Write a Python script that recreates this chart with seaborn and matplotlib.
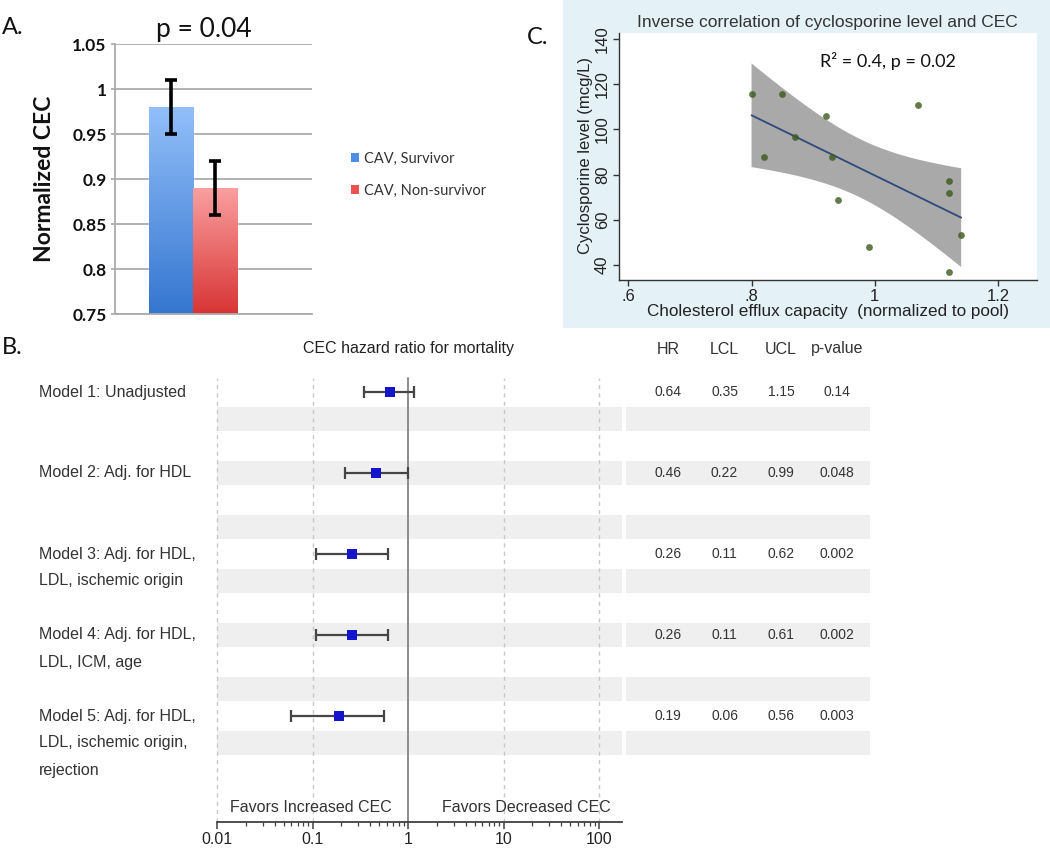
import numpy as np
import pandas as pd
import matplotlib
matplotlib.use("Agg")
import matplotlib.pyplot as plt
import matplotlib.transforms as mtransforms
from matplotlib.patches import Rectangle
from matplotlib.colors import LinearSegmentedColormap
from matplotlib.ticker import FixedLocator, FixedFormatter, LogLocator, NullFormatter
import seaborn as sns

# ---------------- data ----------------
# Panel A
groups = ["CAV, Survivor", "CAV, Non-survivor"]
cec_means = [0.98, 0.89]
cec_err = [0.03, 0.03]
a_yticks = [0.75, 0.8, 0.85, 0.9, 0.95, 1.0, 1.05]

# Panel C
cec_x = [0.80, 0.82, 0.85, 0.87, 0.92, 0.93, 0.94, 0.99, 1.07, 1.12, 1.12, 1.14, 1.12]
cyclo_y = [115.7, 87.9, 115.7, 96.7, 105.8, 87.9, 69.0, 48.1, 110.8, 77.0, 72.0, 53.2, 37.0]
c_xticks = [0.6, 0.8, 1.0, 1.2]
c_xticklabels = [".6", ".8", "1", "1.2"]
c_yticks = [40, 60, 80, 100, 120, 140]

# Panel B
model_labels = [
    "Model 1: Unadjusted",
    "Model 2: Adj. for HDL",
    "Model 3: Adj. for HDL,\nLDL, ischemic origin",
    "Model 4: Adj. for HDL,\nLDL, ICM, age",
    "Model 5: Adj. for HDL,\nLDL, ischemic origin,\nrejection",
]
hr = [0.64, 0.46, 0.26, 0.26, 0.19]
lcl = [0.35, 0.22, 0.11, 0.11, 0.06]
ucl = [1.15, 0.99, 0.62, 0.61, 0.56]
pvals = ["0.14", "0.048", "0.002", "0.002", "0.003"]
table_cols = ["HR", "LCL", "UCL", "p-value"]
forest_ticks = [0.01, 0.1, 1, 10, 100]

# ---------------- figure ----------------
sns.set_theme(style="white")
plt.rcParams["font.family"] = ["Liberation Sans", "DejaVu Sans"]
W, H = 1050, 851
fig = plt.figure(figsize=(10.5, 8.51), dpi=100)
fig.patch.set_facecolor("white")


def fy(py):
    return 1 - py / H


def axes_px(l, t, r, b):
    return fig.add_axes([l / W, 1 - b / H, (r - l) / W, (b - t) / H])


TXT = "#333333"

# ---------------- Panel C background ----------------
fig.add_artist(Rectangle((563 / W, fy(328)), (W - 563) / W, 328 / H,
                         transform=fig.transFigure, facecolor="#e4f2f8",
                         edgecolor="none", zorder=0))

# ---------------- Panel A ----------------
axA = axes_px(115, 44, 312, 314)
dfA = pd.DataFrame({"grp": ["CAV"] * len(groups), "group": groups, "cec": cec_means})
sns.barplot(data=dfA, x="grp", y="cec", hue="group", hue_order=groups,
            palette=["#5a97e8", "#ee6060"], ax=axA, width=0.8,
            errorbar=None, legend=False, saturation=1)
axA.set_ylim(0.75, 1.05)
axA.set_xlim(-0.703, 1.072)
grads = [("#3576d0", "#92bff9"), ("#d83434", "#fa9f9f")]
for p, (cb, ct) in zip(axA.patches, grads):
    x0, w, h = p.get_x(), p.get_width(), p.get_height()
    cmap = LinearSegmentedColormap.from_list("g", [cb, ct])
    im = axA.imshow(np.linspace(0, 1, 256).reshape(-1, 1), cmap=cmap,
                    origin="lower", extent=[x0, x0 + w, 0.75, h],
                    aspect="auto", zorder=2.5)
    im.set_clip_path(p)
xs = [p.get_x() + p.get_width() / 2 for p in axA.patches]
axA.errorbar(xs, cec_means, yerr=cec_err, fmt="none", ecolor="black",
             elinewidth=2.6, capsize=4.5, capthick=2.6, zorder=5)
axA.set_ylim(0.75, 1.05)
axA.set_xlim(-0.703, 1.072)
axA.set_yticks(a_yticks)
axA.set_yticklabels([f"{v:g}" for v in a_yticks], fontsize=12.5,
                    fontweight="bold", family="Lato", color="#111111")
axA.set_xticks([])
axA.set_xlabel("")
axA.yaxis.grid(True, color="#ababab", lw=1.3)
axA.set_axisbelow(True)
for s in ["top", "right"]:
    axA.spines[s].set_visible(False)
axA.spines["left"].set_color("#ababab")
axA.spines["left"].set_linewidth(1.3)
axA.spines["bottom"].set_color("#ababab")
axA.spines["bottom"].set_linewidth(1.3)
axA.tick_params(axis="y", left=True, length=3, color="#ababab", pad=3)
axA.set_ylabel("Normalized CEC", fontsize=16.5, fontweight="bold",
               family="Lato", color="#111111")
axA.yaxis.set_label_coords((55 - 115) / 197, 0.5)

fig.text(204 / W, fy(30), "p = 0.04", ha="center", va="center",
         fontsize=19, family="Lato", color="#111111")
fig.text(2 / W, fy(28), "A.", ha="left", va="center", fontsize=17,
         family="Lato", color="#111111")

handles = [Rectangle((0, 0), 1, 1, facecolor=c, edgecolor="none")
           for c in ["#4f8de4", "#ea5252"]]
fig.legend(handles, groups, loc="upper left", bbox_to_anchor=(351 / W, fy(152)),
           frameon=False, handlelength=0.55, handleheight=0.55,
           handletextpad=0.35, labelspacing=1.2, borderpad=0,
           borderaxespad=0, prop={"family": "Lato", "size": 10.5},
           labelcolor="#333333")

# ---------------- Panel C ----------------
axC = axes_px(619, 33, 1037, 280)
axC.set_facecolor("white")
dfC = pd.DataFrame({"cec": cec_x, "cyclo": cyclo_y})
sns.regplot(data=dfC, x="cec", y="cyclo", ax=axC, ci=None,
            scatter_kws=dict(s=24, color="#3b5a1c", zorder=4, linewidths=0),
            line_kws=dict(color="#2c4a7c", lw=1.3, zorder=3))
# analytic 95% confidence band of the linear fit (as in the original, Stata lfitci)
xv = np.asarray(cec_x)
yv = np.asarray(cyclo_y)
n = len(xv)
slope, intercept = np.polyfit(xv, yv, 1)
resid = yv - (slope * xv + intercept)
s_err = np.sqrt(np.sum(resid ** 2) / (n - 2))
sxx = np.sum((xv - xv.mean()) ** 2)
t_crit = 2.201  # t(0.975, df=11)
grid = np.linspace(xv.min(), xv.max(), 100)
fit = slope * grid + intercept
half = t_crit * s_err * np.sqrt(1 / n + (grid - xv.mean()) ** 2 / sxx)
axC.fill_between(grid, fit - half, fit + half, facecolor="#a9a9a9",
                 edgecolor="none", zorder=2)
axC.set_xlim(0.585, 1.263)
axC.set_ylim(33.4, 142.7)
axC.set_xticks(c_xticks)
axC.set_xticklabels(c_xticklabels, fontsize=12, color="#222222")
axC.set_yticks(c_yticks)
axC.set_yticklabels([str(v) for v in c_yticks], fontsize=12, color="#222222",
                    rotation=90, va="center")
for s in ["top", "right"]:
    axC.spines[s].set_visible(False)
for s in ["left", "bottom"]:
    axC.spines[s].set_color("#333333")
    axC.spines[s].set_linewidth(1.0)
axC.tick_params(axis="both", direction="out", length=4, width=1,
                color="#333333", left=True, bottom=True, pad=2.5)
axC.set_xlabel("Cholesterol efflux capacity  (normalized to pool)",
               fontsize=12.3, color="#222222")
axC.xaxis.set_label_coords(0.5, (280 - 304) / 247)
axC.set_ylabel("Cyclosporine level (mcg/L)", fontsize=12, color="#222222")
axC.yaxis.set_label_coords((593 - 619) / 418, 0.505)
fig.text(827 / W, fy(23), "Inverse correlation of cyclosporine level and CEC",
         ha="center", va="center", fontsize=12.5, color="#333333")
fig.text(888 / W, fy(61), "R\u00b2 = 0.4, p = 0.02", ha="center", va="center",
         fontsize=13, family="Lato", color="#111111")
fig.text(527 / W, fy(38), "C.", ha="left", va="center", fontsize=17,
         family="Lato", color="#111111")

# ---------------- Panel B ----------------
row_px0, row_h = 392, 27
top_px, bot_px = 378, 822
y_top = (top_px - row_px0) / row_h
y_bot = (bot_px - row_px0) / row_h
n_rows = 15
model_rows = [3 * i for i in range(len(hr))]

axF = axes_px(217, top_px, 622, bot_px)
axT = axes_px(626, top_px, 870, bot_px)
for ax in (axF, axT):
    ax.set_ylim(y_bot, y_top)
    ax.set_facecolor("none")
    for r in range(1, n_rows, 2):
        ax.axhspan(r - 0.44, r + 0.44, color="#efefef", lw=0, zorder=0)

axF.set_xscale("log")
axF.set_xlim(0.01, 174)
for t in forest_ticks:
    if t == 1:
        axF.axvline(t, color="#8c8c8c", lw=1.4, zorder=1, clip_on=False)
    else:
        axF.axvline(t, color="#c8c8c8", lw=1.0, ls=(0, (3, 3)), zorder=1,
                    clip_on=False)

hr_a = np.array(hr)
axF.errorbar(hr, model_rows, xerr=[hr_a - np.array(lcl), np.array(ucl) - hr_a],
             fmt="none", ecolor="#454545", elinewidth=1.6, capsize=4.5,
             capthick=1.6, zorder=4)
sns.scatterplot(x=hr, y=model_rows, marker="s", s=52, color="#1414cc",
                edgecolor="#1414cc", linewidth=0, ax=axF, zorder=5, legend=False)
axF.set_ylim(y_bot, y_top)
axF.set_xlim(0.01, 174)

axF.xaxis.set_major_locator(FixedLocator(forest_ticks))
axF.xaxis.set_major_formatter(FixedFormatter([f"{t:g}" for t in forest_ticks]))
axF.xaxis.set_minor_locator(LogLocator(base=10, subs=np.arange(2, 10)))
axF.xaxis.set_minor_formatter(NullFormatter())
axF.set_yticks([])
for s in ["top", "right", "left"]:
    axF.spines[s].set_visible(False)
axF.spines["bottom"].set_color("#404040")
axF.spines["bottom"].set_linewidth(1.3)
axF.tick_params(axis="x", which="major", direction="out", length=5, width=1.1,
                color="#404040", labelsize=11.5, labelcolor="#222222", pad=2,
                bottom=True)
axF.tick_params(axis="x", which="minor", direction="out", length=3, width=0.9,
                color="#404040", bottom=True)

fav_y = (807 - row_px0) / row_h
axF.text(0.68, fav_y, "Favors Increased CEC", ha="right", va="center",
         fontsize=11.5, color=TXT)
axF.text(2.27, fav_y, "Favors Decreased CEC", ha="left", va="center",
         fontsize=11.5, color=TXT)
head_y = (349 - row_px0) / row_h
axF.text(1.0, head_y, "CEC hazard ratio for mortality", ha="center",
         va="center", fontsize=11.5, color="#222222", clip_on=False)

blend = mtransforms.blended_transform_factory(fig.transFigure, axF.transData)
for lab, r in zip(model_labels, model_rows):
    for j, line in enumerate(lab.split("\n")):
        axF.text(39 / W, r + j, line, transform=blend, ha="left", va="center",
                 fontsize=11.5, color=TXT, clip_on=False)

# table
axT.set_xlim(-0.25, 4.08)
axT.axis("off")
for k, col in enumerate(table_cols):
    axT.text(k + 0.5, head_y, col, ha="center", va="center", fontsize=11.5,
             color=TXT, clip_on=False)
for i, r in enumerate(model_rows):
    vals = [f"{hr[i]:.2f}", f"{lcl[i]:.2f}", f"{ucl[i]:.2f}", pvals[i]]
    for k, v in enumerate(vals):
        axT.text(k + 0.5, r, v, ha="center", va="center", fontsize=10,
                 color=TXT)

fig.text(2 / W, fy(347), "B.", ha="left", va="center", fontsize=17,
         family="Lato", color="#111111")

fig.savefig("out.png", dpi=100)
